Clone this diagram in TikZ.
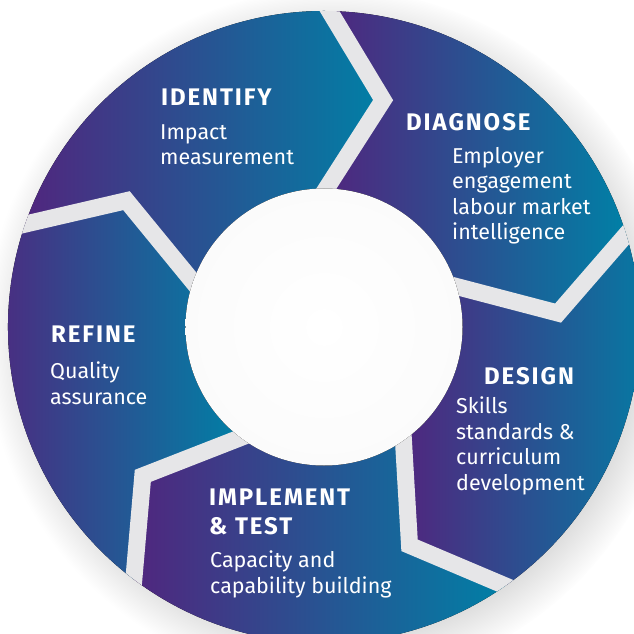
\documentclass[tikz,border=0pt]{standalone}
\usepackage{fontspec}
\setmainfont{Fira Sans}
\usetikzlibrary{shadows}
\definecolor{ringpurple}{RGB}{80,38,126}
\definecolor{ringblue}{RGB}{44,56,142}
\definecolor{ringteal}{RGB}{0,128,166}
\definecolor{gapgray}{RGB}{230,230,232}
\begin{document}
\begin{tikzpicture}[x=1pt, y=1pt,
  seg/.style={left color=ringpurple, middle color=ringblue, right color=ringteal},
  gap/.style={draw=gapgray, line width=17pt, line join=miter, shorten <=-20pt, shorten >=-20pt},
  head/.style={anchor=base west, text=white, inner sep=0pt, align=left,
    font=\fontsize{24}{29}\selectfont\bfseries\addfontfeature{LetterSpace=8}},
  body/.style={anchor=base west, text=white, inner sep=0pt, align=left,
    font=\fontsize{21.5}{25.5}\selectfont}]
  \useasboundingbox (-324,-307) rectangle (309,327);
  \fill[gapgray, circular drop shadow={shadow xshift=8pt, shadow yshift=-8pt, opacity=.3}] (0,0) circle (316);
  % five chevron segments, clockwise from the top
  \foreach \a in {89,17,-55,-127,161} {
    \pgfmathsetmacro{\b}{\a-72}
    \fill[seg] (\a:316) arc[start angle=\a, end angle=\b, radius=316] -- (\b-13.6:234.5)
      -- (\b:138.5) arc[start angle=\b, end angle=\a, radius=138.5] -- (\a-13.6:234.5) -- cycle;
  }
  \begin{scope}
    \clip (0,0) circle (316);
    \foreach \a in {89,17,-55,-127,161}
      \draw[gap] (\a:316) -- (\a-13.6:234.5) -- (\a:138.5);
  \end{scope}
  \fill[inner color=white, outer color=gray!3] (0,0) circle (138.5);
  % labels (multi-line nodes sit on their last baseline)
  \node[head] (idhead) at (-163,221) {IDENTIFY};
  \node[body] (idbody) at (-164,162) {Impact\\measurement};
  \node[head] (dghead) at (82,196) {DIAGNOSE};
  \node[body] (dgbody) at (128,87) {Employer\\engagement\\labour market\\intelligence};
  \node[head] (dshead) at (160,-57) {DESIGN};
  \node[body] (dsbody) at (132,-163) {Skills\\standards \&\\curriculum\\development};
  \node[head] (ithead) at (-115,-207) {IMPLEMENT\\\& TEST};
  \node[body] (itbody) at (-114,-266) {Capacity and\\capability building};
  \node[head] (rfhead) at (-273,-16) {REFINE};
  \node[body] (rfbody) at (-274,-77) {Quality\\assurance};
\end{tikzpicture}
\end{document}
